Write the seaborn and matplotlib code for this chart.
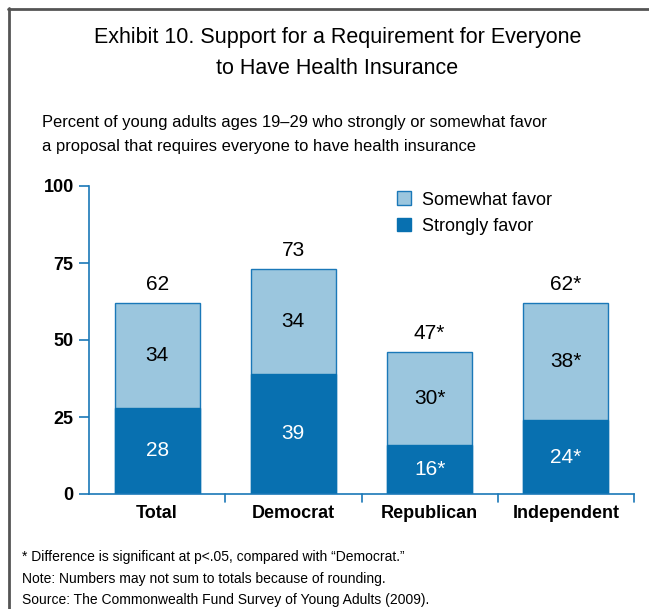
import seaborn as sns
import matplotlib.pyplot as plt
import pandas as pd
from matplotlib.lines import Line2D
from matplotlib.patches import Patch

# data
groups = ["Total", "Democrat", "Republican", "Independent"]
strongly = [28, 39, 16, 24]
somewhat = [34, 34, 30, 38]
strongly_labels = ["28", "39", "16*", "24*"]
somewhat_labels = ["34", "34", "30*", "38*"]
total_labels = ["62", "73", "47*", "62*"]

dark = "#0870b0"
light = "#9bc6de"
edge = "#1a78b8"

sns.set_style("white")
plt.rcParams["font.family"] = ["Liberation Sans", "DejaVu Sans"]
plt.rcParams["text.color"] = "black"
plt.rcParams["xtick.color"] = "black"
plt.rcParams["ytick.color"] = "black"

df = pd.DataFrame({"group": groups, "strongly": strongly, "somewhat": somewhat})
df["stack"] = df["strongly"] + df["somewhat"]

fig = plt.figure(figsize=(6.49, 6.09), dpi=100)
ax = fig.add_axes([89 / 649, 115 / 609, 545 / 649, 308 / 609])

sns.barplot(data=df, x="group", y="stack", color=light, width=0.625,
            edgecolor=edge, linewidth=1, saturation=1, ax=ax)
sns.barplot(data=df, x="group", y="strongly", color=dark, width=0.625,
            edgecolor=dark, linewidth=1, saturation=1, ax=ax)

for i in range(len(groups)):
    ax.text(i, strongly[i] / 2, strongly_labels[i], ha="center", va="center",
            color="white", fontsize=15)
    ax.text(i, strongly[i] + somewhat[i] / 2, somewhat_labels[i], ha="center",
            va="center", color="black", fontsize=15)
    ax.text(i, df["stack"][i] + 3, total_labels[i], ha="center", va="bottom",
            color="black", fontsize=15)

ax.set_xlim(-0.5, 3.5)
ax.set_ylim(0, 100)
ax.set_yticks([0, 25, 50, 75, 100])
ax.set_xticks([0, 1, 2, 3])
ax.set_xticklabels(groups, fontsize=13, fontweight="bold")
ax.set_yticklabels(["0", "25", "50", "75", "100"], fontsize=13, fontweight="bold")
ax.set_xlabel("")
ax.set_ylabel("")
ax.tick_params(axis="y", length=7, width=1.2, color=edge, pad=4, left=True)
ax.tick_params(axis="x", length=0, pad=8)
for x in [0.5, 1.5, 2.5, 3.5]:
    ax.plot([x, x], [0, -2.5], color=edge, lw=1.2, clip_on=False)

sns.despine(ax=ax, top=True, right=True)
for s in ["left", "bottom"]:
    ax.spines[s].set_color(edge)
    ax.spines[s].set_linewidth(1.2)

handles = [Patch(facecolor=light, edgecolor=edge), Patch(facecolor=dark, edgecolor=dark)]
ax.legend(handles, ["Somewhat favor", "Strongly favor"], loc="upper left",
          bbox_to_anchor=(0.535, 1.035), frameon=False, fontsize=13,
          handlelength=0.8, handleheight=0.8, handletextpad=0.6, labelspacing=0.5)

fig.text(0.52, 1 - 37 / 609, "Exhibit 10. Support for a Requirement for Everyone",
         ha="center", va="center", fontsize=15.5)
fig.text(0.52, 1 - 68 / 609, "to Have Health Insurance", ha="center", va="center",
         fontsize=15.5)
fig.text(42 / 649, 1 - 122 / 609,
         "Percent of young adults ages 19\u201329 who strongly or somewhat favor",
         ha="left", va="center", fontsize=11.9)
fig.text(42 / 649, 1 - 147 / 609,
         "a proposal that requires everyone to have health insurance",
         ha="left", va="center", fontsize=11.9)

notes = ["* Difference is significant at p<.05, compared with \u201cDemocrat.\u201d",
         "Note: Numbers may not sum to totals because of rounding.",
         "Source: The Commonwealth Fund Survey of Young Adults (2009)."]
for k, n in enumerate(notes):
    fig.text(22 / 649, 1 - (557 + 21.5 * k) / 609, n, ha="left", va="center",
             fontsize=10)

fig.add_artist(Line2D([8 / 649, 1], [1 - 9 / 609, 1 - 9 / 609], color="#555555", lw=2))
fig.add_artist(Line2D([9 / 649, 9 / 649], [0, 1 - 8 / 609], color="#555555", lw=2))

fig.savefig("out.png", dpi=100)
